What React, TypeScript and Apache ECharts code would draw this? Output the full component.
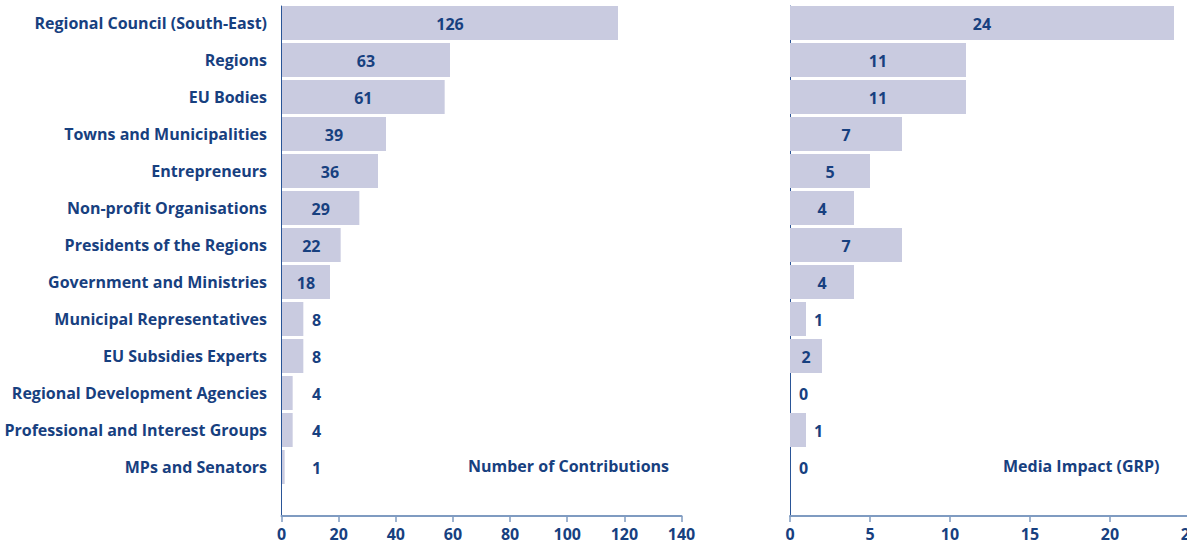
import React, { useEffect, useRef } from "react";
import * as echarts from "echarts";

// ---- data ----
const categories = [
  "Regional Council (South-East)",
  "Regions",
  "EU Bodies",
  "Towns and Municipalities",
  "Entrepreneurs",
  "Non-profit Organisations",
  "Presidents of the Regions",
  "Government and Ministries",
  "Municipal Representatives",
  "EU Subsidies Experts",
  "Regional Development Agencies",
  "Professional and Interest Groups",
  "MPs and Senators",
];
const contributions = [126, 63, 61, 39, 36, 29, 22, 18, 8, 8, 4, 4, 1];
const mediaImpact = [24, 11, 11, 7, 5, 4, 7, 4, 1, 2, 0, 1, 0];
const contributionTicks = [0, 20, 40, 60, 80, 100, 120, 140];
const mediaTicks = [0, 5, 10, 15, 20, 25];
// In the original, the contribution bars are drawn on a scale whose full
// length corresponds to 150 while the printed axis stops at 140.
const contributionBarScaleMax = 150;
const titles = ["Number of Contributions", "Media Impact (GRP)"];

const FONT = "Open Sans";
const TEXT = "#17407f";
const BAR = "#c9cbe0";
const AXIS_H = "#7f9bc1";
const AXIS_V = "#2a5597";

function leftLabel(v: number) {
  if (v >= 10) return { position: "inside" as const, offset: [0, 1] };
  return { position: "insideLeft" as const, distance: 30, offset: [0, 1] };
}
function rightLabel(v: number) {
  if (v >= 2) return { position: "inside" as const, offset: [0, 1] };
  return {
    position: "insideLeft" as const,
    distance: v === 0 ? 9 : 24,
    offset: [0, 1],
  };
}

const labelText = { fontFamily: FONT, fontSize: 16, fontWeight: "bold" as const, color: TEXT };

function frameX(grid: number, ticks: number[]) {
  return {
    gridIndex: grid,
    type: "value" as const,
    min: ticks[0],
    max: ticks[ticks.length - 1],
    interval: ticks[1] - ticks[0],
    axisLine: { show: true, lineStyle: { color: AXIS_H, width: 2 } },
    axisTick: { show: true, length: 6, lineStyle: { color: AXIS_H, width: 1.5 } },
    axisLabel: { ...labelText, margin: 10, showMaxLabel: true, showMinLabel: true },
    splitLine: { show: false },
  };
}
function frameY(grid: number) {
  return {
    gridIndex: grid,
    type: "value" as const,
    axisLine: { show: true, lineStyle: { color: AXIS_V, width: 1 } },
    axisTick: { show: false },
    axisLabel: { show: false },
    splitLine: { show: false },
  };
}

export default function App() {
  const ref = useRef<HTMLDivElement>(null);
  useEffect(() => {
    if (!ref.current) return;
    const chart = echarts.init(ref.current, undefined, { renderer: "svg" });
    const option = {
      animation: false,
      backgroundColor: "#ffffff",
      textStyle: { fontFamily: FONT },
      title: [
        { text: titles[0], left: 468, top: 458, padding: 0, textStyle: { ...labelText } },
        { text: titles[1], left: 1003, top: 458, padding: 0, textStyle: { ...labelText } },
      ],
      grid: [
        { left: 282, top: 4.5, width: 400, height: 481 },
        { left: 281.5, top: 6, width: 400, height: 510 },
        { left: 790, top: 4.5, width: 400, height: 481 },
        { left: 790, top: 6, width: 400, height: 510 },
      ],
      xAxis: [
        { gridIndex: 0, type: "value", min: 0, max: contributionBarScaleMax, show: false },
        frameX(1, contributionTicks),
        { gridIndex: 2, type: "value", min: mediaTicks[0], max: mediaTicks[mediaTicks.length - 1], show: false },
        frameX(3, mediaTicks),
      ],
      yAxis: [
        {
          gridIndex: 0,
          type: "category",
          data: categories,
          inverse: true,
          axisLine: { show: false },
          axisTick: { show: false },
          axisLabel: { ...labelText, margin: 15 },
        },
        frameY(1),
        { gridIndex: 2, type: "category", data: categories, inverse: true, show: false },
        frameY(3),
      ],
      series: [
        {
          type: "bar",
          xAxisIndex: 0,
          yAxisIndex: 0,
          barCategoryGap: "8%",
          itemStyle: { color: BAR },
          label: { show: true, ...labelText },
          data: contributions.map((v) => ({ value: v, label: leftLabel(v) })),
        },
        {
          type: "bar",
          xAxisIndex: 2,
          yAxisIndex: 2,
          barCategoryGap: "8%",
          itemStyle: { color: BAR },
          label: { show: true, ...labelText },
          data: mediaImpact.map((v) => ({ value: v, label: rightLabel(v) })),
        },
      ],
    };
    chart.setOption(option as any);
    return () => chart.dispose();
  }, []);
  return (
    <div
      style={{
        position: "absolute",
        left: 0,
        top: 0,
        width: 1187,
        height: 546,
        overflow: "hidden",
        background: "#fff",
      }}
    >
      <div ref={ref} style={{ width: 1210, height: 546 }} />
    </div>
  );
}
